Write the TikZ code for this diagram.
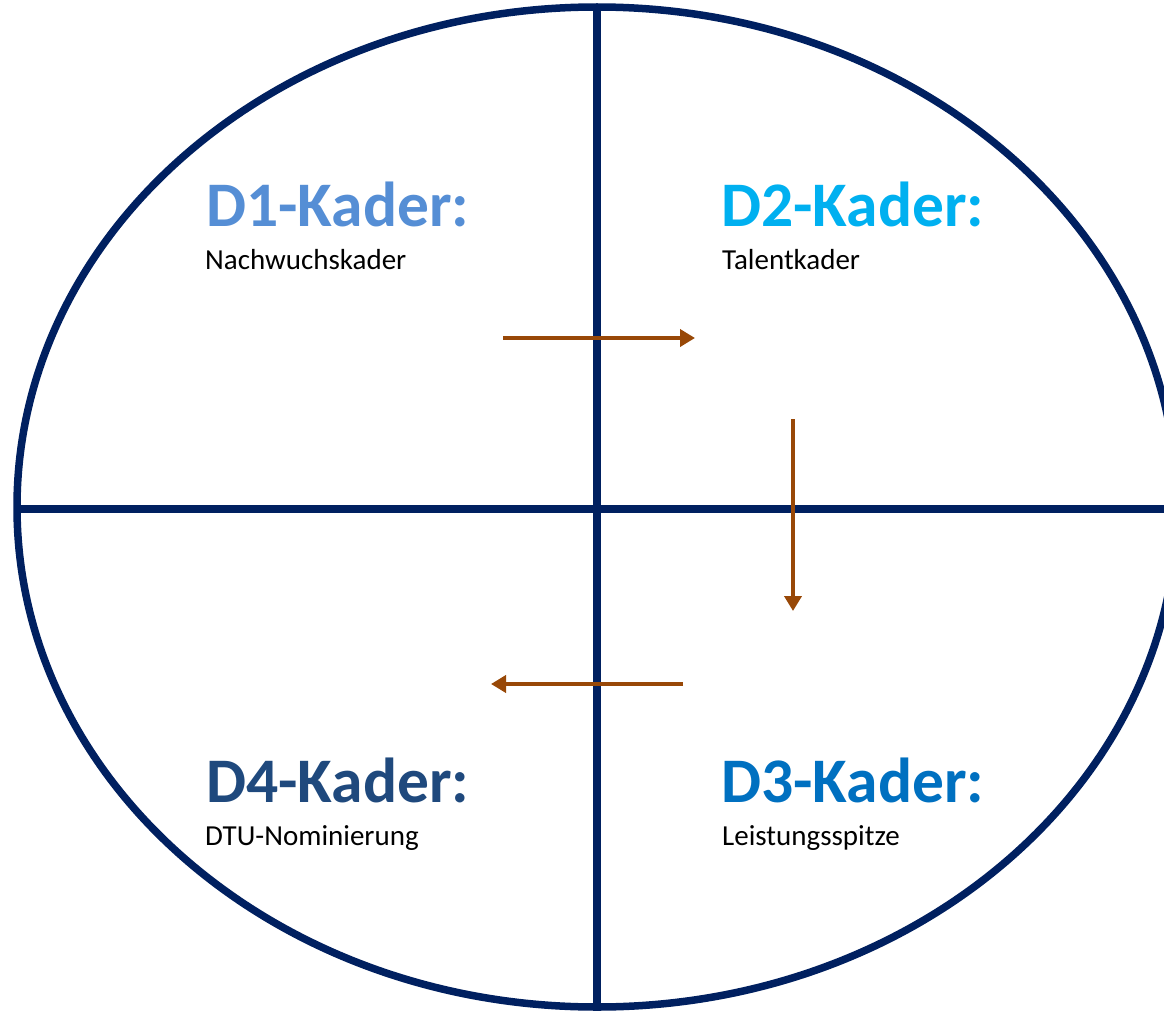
\documentclass[tikz,border=0pt]{standalone}
\usepackage{fontspec}
\setmainfont{Carlito}
\usetikzlibrary{arrows.meta}
\definecolor{navy}{HTML}{002060}
\definecolor{arrowbrown}{HTML}{984807}
\definecolor{dA}{HTML}{558ED5}
\definecolor{dB}{HTML}{00B0F0}
\definecolor{dC}{HTML}{0070C0}
\definecolor{dD}{HTML}{1F497D}
\tikzset{
  frame/.style={draw=navy, line width=7.5pt},
  flow/.style={draw=arrowbrown, line width=4.5pt, -{Triangle[length=15pt,width=17pt]}},
  title/.style={anchor=base west, inner sep=0pt, font=\fontsize{63.5}{70}\selectfont\bfseries},
  sub/.style={anchor=base west, inner sep=0pt, text=black, font=\fontsize{29}{34}\selectfont},
}
\begin{document}
\begin{tikzpicture}[x=1pt,y=-1pt]
\useasboundingbox (0,0) rectangle (1164,1014);
\clip (0,0) rectangle (1164,1014);
\fill[white] (0,0) rectangle (1164,1014);
\draw[frame] (597,507) ellipse [x radius=580, y radius=500];
\coordinate (top) at (597,7);
\coordinate (bot) at (597,1007);
\coordinate (lft) at (17,509);
\coordinate (rgt) at (1180,509);
\draw[frame] (top) -- (bot);
\draw[frame] (lft) -- (rgt);
\node[title, text=dA] (d1) at (206,226) {D1-Kader:};
\node[sub] (s1) at (205,269) {Nachwuchskader};
\node[title, text=dB] (d2) at (721,226) {D2-Kader:};
\node[sub] (s2) at (722,269) {Talentkader};
\node[title, text=dD] (d4) at (206,802) {D4-Kader:};
\node[sub] (s4) at (205,845) {DTU-Nominierung};
\node[title, text=dC] (d3) at (721,802) {D3-Kader:};
\node[sub] (s3) at (722,845) {Leistungsspitze};
\coordinate (a1s) at (503,338);
\coordinate (a1e) at (695,338);
\coordinate (a2s) at (793,419);
\coordinate (a2e) at (793,611);
\coordinate (a3s) at (683,684);
\coordinate (a3e) at (491,684);
\draw[flow] (a1s) -- (a1e);
\draw[flow] (a2s) -- (a2e);
\draw[flow] (a3s) -- (a3e);
\end{tikzpicture}
\end{document}
